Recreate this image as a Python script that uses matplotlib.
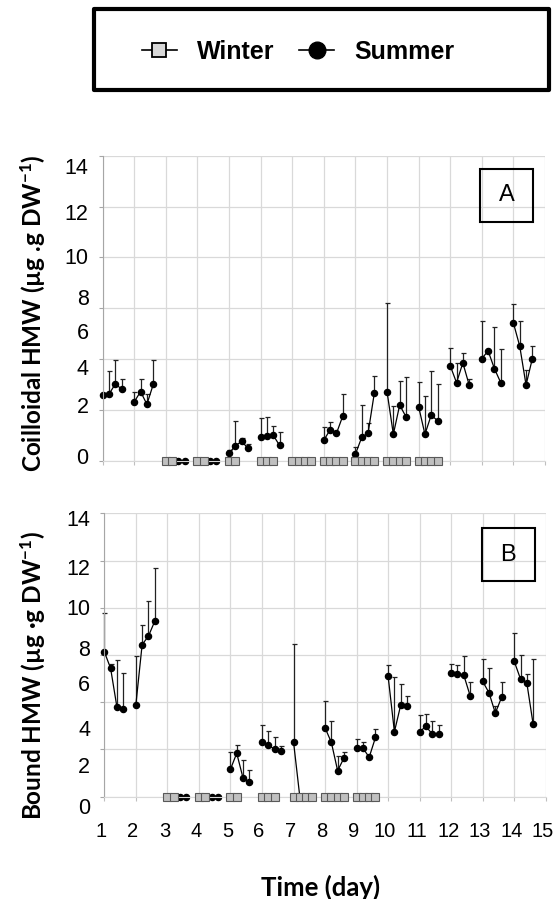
import numpy as np
import matplotlib
matplotlib.use("Agg")
import matplotlib.pyplot as plt
from matplotlib.lines import Line2D
from matplotlib.patches import Rectangle
from matplotlib.transforms import ScaledTranslation

plt.rcParams['font.family'] = ['Liberation Sans', 'DejaVu Sans']
plt.rcParams['mathtext.default'] = 'regular'

nan = np.nan
days = np.arange(1, 15)
offsets = np.array([0.0, 0.2, 0.4, 0.6])
x_labels = [str(d) for d in range(1, 16)]
y_labels = ['0', '2', '4', '6', '8', '10', '12', '14']

# summer, colloidal HMW (4 samples per day) and upper error
summer_a = [
    [2.59, 2.62, 3.02, 2.82], [2.32, 2.72, 2.22, 3.00], [nan, nan, 0, 0],
    [nan, nan, 0, 0], [0.29, 0.59, 0.76, 0.49], [0.94, 0.98, 1.00, 0.60],
    [nan, nan, nan, nan], [0.81, 1.22, 1.08, 1.76], [0.26, 0.92, 1.08, 2.68],
    [2.72, 1.04, 2.19, 1.73], [2.13, 1.04, 1.80, 1.57], [3.74, 3.07, 3.85, 2.98],
    [4.02, 4.32, 3.62, 3.07], [5.42, 4.51, 2.98, 4.02],
]
summer_a_err = [
    [0, 0.90, 0.93, 0.38], [0.40, 0.48, 0.39, 0.95], [0, 0, 0, 0],
    [0, 0, 0, 0], [0.13, 0.98, 0.14, 0.15], [0.75, 0.74, 0.38, 0.55],
    [0, 0, 0, 0], [0.50, 0.32, 0, 0.85], [0.29, 1.27, 0.42, 0.65],
    [3.50, 1.13, 0.95, 1.56], [0.95, 1.49, 1.72, 1.45], [0.70, 0.78, 0.38, 0.22],
    [1.48, 0, 1.63, 1.34], [0.76, 1.00, 0.59, 0.51],
]
# summer, bound HMW
summer_b = [
    [6.14, 5.44, 3.80, 3.71], [3.88, 6.44, 6.80, 7.43], [nan, nan, 0, 0],
    [nan, nan, 0, 0], [1.16, 1.84, 0.79, 0.62], [2.30, 2.17, 2.02, 1.95],
    [2.33, 0, 0, 0], [2.92, 2.30, 1.10, 1.64], [2.06, 2.06, 1.67, 2.51],
    [5.10, 2.75, 3.88, 3.84], [2.75, 2.98, 2.65, 2.65], [5.25, 5.21, 5.15, 4.28],
    [4.88, 4.40, 3.54, 4.21], [5.73, 4.98, 4.81, 3.06],
]
summer_b_err = [
    [1.63, 0.18, 1.99, 1.51], [2.08, 0.83, 1.47, 2.26], [0, 0, 0, 0],
    [0, 0, 0, 0], [0.72, 0.36, 0.76, 0.51], [0.74, 0.63, 0.51, 0.18],
    [4.15, 0, 0, 0], [1.12, 0.90, 0.61, 0.24], [0.38, 0.27, 0, 0.37],
    [0.49, 2.33, 0.88, 0.44], [0.72, 0.54, 0.55, 0.40], [0.37, 0.38, 0.82, 0.59],
    [0.94, 1.06, 0.31, 0.66], [1.19, 1.01, 0.40, 2.79],
]
# winter (all zero where sampled)
E = [nan, nan, nan, nan]
winter_a = [E, E, [0, 0, nan, nan], [0, 0, nan, nan], [0, 0, nan, nan],
            [0, 0, 0, nan], [0, 0, 0, 0], [0, 0, 0, 0], [0, 0, 0, 0],
            [0, 0, 0, 0], [0, 0, 0, 0], E, E, E]
winter_b = [E, E, [0, 0, nan, nan], [0, 0, nan, nan], [0, 0, nan, nan],
            [0, 0, 0, nan], [0, 0, 0, 0], [0, 0, 0, 0], [0, 0, 0, 0],
            E, E, E, E, E]

# where the (hand placed) y labels sit on the grid scale
ylab_pos_a = [0.07, 2.09, 3.57, 5.01, 6.35, 7.97, 9.67, 11.51]
ylab_pos_b = [-0.49, 1.23, 2.82, 4.73, 6.18, 7.91, 9.64, 11.69]

fig = plt.figure(figsize=(5.58, 8.99), dpi=100)
ax_a = fig.add_axes([0.184, 0.4875, 0.7927, 0.3393])
ax_b = fig.add_axes([0.1869, 0.1138, 0.7912, 0.3152])


def draw_panel(ax, summer, summer_err, winter, ylab_pos, show_x):
    for i, d in enumerate(days):
        x = d + offsets
        v = np.array(summer[i], dtype=float)
        e = np.array(summer_err[i], dtype=float)
        ax.errorbar(x, v, yerr=[np.zeros(4), e], color='black', lw=0.9,
                    marker='o', ms=4.4, capsize=1.8, elinewidth=0.9,
                    capthick=0.9, ecolor='#222222', zorder=2, clip_on=False)
        ax.plot(x, winter[i], color='#7f7f7f', lw=0.8, marker='s', ms=5.4,
                mfc='#c0c0c0', mec='#595959', mew=0.8, zorder=3, clip_on=False)
    ax.set_xlim(1, 15)
    ax.set_ylim(0, 12)
    ax.set_xticks(np.arange(1, 16))
    ax.set_yticks(np.arange(0, 13, 2))
    ax.set_yticklabels([])
    ax.grid(True, color='#d9d9d9', lw=0.9)
    ax.set_axisbelow(True)
    for s in ['top', 'right']:
        ax.spines[s].set_visible(False)
    ax.spines['left'].set_color('#a6a6a6')
    ax.spines['bottom'].set_color('#d9d9d9')
    ax.tick_params(axis='y', length=3, color='#a6a6a6')
    ax.tick_params(axis='x', length=3, color='#bfbfbf')
    tr = ax.get_yaxis_transform()
    for lab, p in zip(y_labels, ylab_pos):
        ax.text(-0.032, p, lab, transform=tr, ha='right', va='center',
                fontsize=15.5, clip_on=False)
    if show_x:
        ax.set_xticklabels(x_labels, fontsize=14.5)
        ax.tick_params(axis='x', pad=15)
        off = ScaledTranslation(-3 / 100, 0, fig.dpi_scale_trans)
        for t in ax.get_xticklabels():
            t.set_transform(t.get_transform() + off)
    else:
        ax.set_xticklabels([])


draw_panel(ax_a, summer_a, summer_a_err, winter_a, ylab_pos_a, False)
draw_panel(ax_b, summer_b, summer_b_err, winter_b, ylab_pos_b, True)

# panel letters
for (x0, y0), letter in [((0.8602, 0.7531), 'A'), ((0.8633, 0.3537), 'B')]:
    fig.add_artist(Rectangle((x0, y0), 0.095, 0.059, transform=fig.transFigure,
                             fill=False, ec='black', lw=1.5))
    fig.text(x0 + 0.0475, y0 + 0.0295, letter, ha='center', va='center', fontsize=17)

fig.text(0.059, 0.652, 'Coilloidal HMW (µg .g DW$^{-1}$)', rotation=90,
         ha='center', va='center', fontsize=17.5, fontweight='bold', family='Lato')
fig.text(0.059, 0.249, 'Bound HMW (µg ·g DW$^{-1}$)', rotation=90,
         ha='center', va='center', fontsize=17.5, fontweight='bold', family='Lato')
fig.text(0.575, 0.0125, 'Time (day)', ha='center', va='center',
         fontsize=18.5, fontweight='bold', family='Lato')

# legend with a heavy frame
fig.add_artist(Rectangle((0.1685, 0.8999), 0.8154, 0.0901, transform=fig.transFigure,
                         fill=False, ec='black', lw=3, joinstyle='round'))
handles = [
    Line2D([], [], color='black', lw=1.2, marker='s', ms=10.5,
           mfc='#d9d9d9', mec='black', mew=1.3),
    Line2D([], [], color='black', lw=1.2, marker='o', ms=12),
]
fig.legend(handles, ['Winter', 'Summer'], loc='center', bbox_to_anchor=(0.534, 0.942),
           ncol=2, frameon=False, prop={'weight': 'bold', 'size': 18},
           handlelength=1.4, handletextpad=0.8, columnspacing=1.0)

fig.savefig('out.png', dpi=100)
